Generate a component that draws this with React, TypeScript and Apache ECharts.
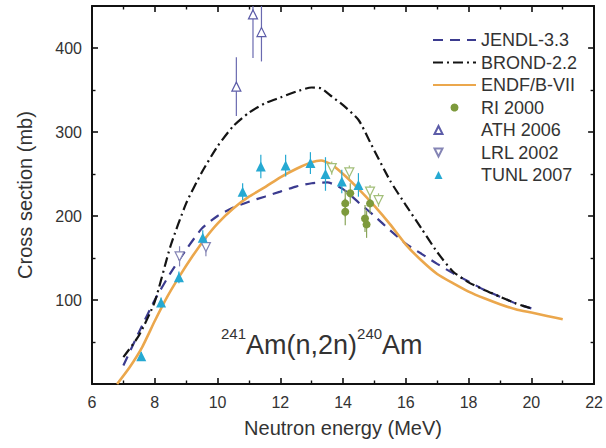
import React, { useEffect, useRef } from "react";
import * as echarts from "echarts";

// ---- Evaluated curves (energy MeV, cross section mb) ----
const jendlE = [7.0, 7.5, 8.0, 8.5, 9.0, 9.5, 10.0, 10.5, 11.0, 11.5, 12.0, 12.5, 13.0, 13.5, 14.0, 14.5, 15.0, 15.5, 16.0, 16.5, 17.0, 17.5, 18.0, 18.5, 19.0, 19.5, 20.0];
const jendlV = [22, 62, 100, 132, 160, 185, 200, 210, 217, 223, 229, 235, 239, 240, 232, 216, 200, 183, 167, 155, 143, 132, 122, 112, 104, 96, 90];

const brondE = [7.0, 7.5, 8.0, 8.5, 9.0, 9.5, 10.0, 10.5, 11.0, 11.5, 12.0, 12.5, 13.0, 13.3, 13.65, 14.0, 14.5, 14.9, 15.5, 16.0, 16.5, 17.0, 17.5, 18.0, 18.5, 19.0, 19.5, 20.0];
const brondV = [32, 58, 98, 164, 215, 252, 283, 307, 323, 334, 341, 348, 353, 352, 342, 332, 314, 285, 242, 213, 185, 157, 134, 121, 112, 104, 96, 90];

const endfE = [6.8, 7.2, 7.6, 8.0, 8.4, 8.8, 9.2, 9.6, 10.0, 10.5, 11.0, 11.5, 12.0, 12.5, 13.0, 13.3, 13.6, 14.0, 14.5, 15.0, 15.5, 16.0, 16.5, 17.0, 17.5, 18.0, 18.5, 19.0, 19.5, 20.0, 20.5, 21.0];
const endfV = [0, 20, 44, 75, 104, 129, 152, 173, 191, 209, 223, 234, 246, 256, 264, 266, 262, 250, 232, 212, 190, 166, 147, 131, 120, 110, 102, 95, 89, 85, 81, 77];

// ---- Measurements: energy, value, uncertainty ----
const riE = [14.07, 14.07, 14.23, 14.7, 14.75, 14.86];
const riV = [215, 205, 227, 197, 190, 215];
const riErr = [16, 16, 12, 16, 16, 12];

const athE = [10.6, 11.13, 11.4];
const athV = [354, 440, 419];
const athErr = [35, 52, 35];

const lrlE = [8.79, 9.63];
const lrlV = [152, 163];
const lrlErr = [12, 11];

const lrlHiE = [13.64, 14.2, 14.86, 15.13];
const lrlHiV = [257, 252, 229, 219];
const lrlHiErr = [8, 8, 8, 8];

const tunlE = [7.57, 8.2, 8.77, 9.53, 10.8, 11.38, 12.17, 12.96, 13.44, 13.96, 14.49];
const tunlV = [33, 97, 127, 174, 229, 259, 260, 263, 250, 241, 237];
const tunlErr = [5, 6, 7, 9, 10, 14, 13, 13, 20, 14, 14];

const lineNames = ["JENDL-3.3", "BROND-2.2", "ENDF/B-VII"];
const pointNames = ["RI 2000", "ATH 2006", "LRL 2002", "TUNL 2007"];

const xTickMin = 6;
const xTickMax = 22;
const yMin = 0;
const yMax = 450;

const FONT = "'Liberation Sans', Arial, Helvetica, sans-serif";
const TXT = "#333";

const pairs = (e: number[], v: number[]) => e.map((x, i) => [x, v[i]]);

function errSeries(name: string, e: number[], v: number[], s: number[], color: string) {
  return {
    type: "custom",
    name,
    data: e.map((x, i) => [x, v[i], v[i] - s[i], v[i] + s[i]]),
    encode: { x: 0, y: [2, 3] },
    clip: true,
    z: 3,
    silent: true,
    renderItem: (_p: any, api: any) => {
      const x = api.value(0);
      const a = api.coord([x, api.value(2)]);
      const b = api.coord([x, api.value(3)]);
      return {
        type: "line",
        shape: { x1: a[0], y1: a[1], x2: b[0], y2: b[1] },
        style: { stroke: color, lineWidth: 1.2 },
      };
    },
  };
}

function axisCommon() {
  return {
    axisLine: { show: true, onZero: false, lineStyle: { color: "#111", width: 2 } },
    axisTick: { show: true, inside: true, length: 6, lineStyle: { color: "#111", width: 1.6 } },
    minorTick: { show: true, splitNumber: 2, length: 3.5, lineStyle: { color: "#111", width: 1.4 } },
    splitLine: { show: false },
    minorSplitLine: { show: false },
  };
}

export default function App() {
  const ref = useRef<HTMLDivElement>(null);
  useEffect(() => {
    const chart = echarts.init(ref.current!, null, { renderer: "svg" });
    const option: any = {
      animation: false,
      backgroundColor: "#fff",
      textStyle: { fontFamily: FONT },
      grid: { left: 92, right: 9, top: 6, bottom: 64, containLabel: false },
      legend: {
        data: [
          ...lineNames.map((n) => ({ name: n, itemStyle: { opacity: 0 } })),
          { name: pointNames[0], icon: "circle" },
          { name: pointNames[1], icon: "path://M-20,10 L-16,2 L-12,10 Z M-20,10 L-20,10 M20,10 L20,10" },
          { name: pointNames[2], icon: "path://M-20,2 L-12,2 L-16,10 Z M-20,2 L-20,2 M20,2 L20,2" },
          { name: pointNames[3], icon: "path://M-20,10 L-16,2 L-12,10 Z M-20,10 L-20,10 M20,10 L20,10" },
        ],
        orient: "vertical",
        left: 432,
        top: 31,
        padding: 0,
        itemWidth: 43,
        itemHeight: 8,
        itemGap: 4.5,
        symbolKeepAspect: true,
        textStyle: { fontSize: 18, color: TXT, fontFamily: FONT },
      },
      xAxis: [
        {
          type: "value",
          min: xTickMin,
          max: xTickMax,
          interval: 2,
          position: "bottom",
          ...axisCommon(),
          axisLabel: { fontSize: 16, color: TXT, margin: 10, fontFamily: FONT },
          name: "Neutron energy (MeV)",
          nameLocation: "middle",
          nameGap: 34,
          nameTextStyle: { fontSize: 20, color: TXT, fontFamily: FONT },
        },
        {
          type: "value",
          min: xTickMin,
          max: xTickMax,
          interval: 2,
          position: "top",
          ...axisCommon(),
          axisLabel: { show: false },
        },
      ],
      yAxis: [
        {
          type: "value",
          min: yMin,
          max: yMax,
          interval: 100,
          position: "left",
          ...axisCommon(),
          axisLabel: {
            fontSize: 16,
            color: TXT,
            margin: 10,
            fontFamily: FONT,
            formatter: (v: number) => (v === 0 || v > 400 ? "" : String(v)),
          },
          name: "Cross section (mb)",
          nameLocation: "middle",
          nameGap: 57,
          nameTextStyle: { fontSize: 20, color: TXT, fontFamily: FONT },
        },
        {
          type: "value",
          min: yMin,
          max: yMax,
          interval: 100,
          position: "right",
          ...axisCommon(),
          axisLabel: { show: false },
        },
      ],
      series: [
        {
          name: "JENDL-3.3",
          type: "line",
          data: pairs(jendlE, jendlV),
          smooth: 0.2,
          symbol: "none",
          z: 2,
          lineStyle: { color: "#3b3b8f", width: 2.2, type: [10, 7] },
          itemStyle: { color: "#3b3b8f" },
        },
        {
          name: "BROND-2.2",
          type: "line",
          data: pairs(brondE, brondV),
          smooth: 0.2,
          symbol: "none",
          z: 2,
          lineStyle: { color: "#141414", width: 2.2, type: [10, 4, 2, 4] },
          itemStyle: { color: "#141414" },
        },
        {
          name: "ENDF/B-VII",
          type: "line",
          data: pairs(endfE, endfV),
          smooth: 0.2,
          symbol: "none",
          z: 2,
          lineStyle: { color: "#eba74c", width: 2.6 },
          itemStyle: { color: "#eba74c" },
        },
        {
          name: "RI 2000",
          type: "scatter",
          data: pairs(riE, riV),
          symbol: "circle",
          symbolSize: 8,
          z: 5,
          itemStyle: { color: "#7d9a3c", opacity: 1 },
        },
        {
          name: "ATH 2006",
          type: "scatter",
          data: pairs(athE, athV),
          symbol: "triangle",
          symbolSize: 9,
          clip: true,
          z: 5,
          itemStyle: { color: "#ffffff", borderColor: "#5c5ca8", borderWidth: 1.2, opacity: 1 },
        },
        {
          name: "LRL 2002",
          type: "scatter",
          data: pairs(lrlE, lrlV),
          symbol: "triangle",
          symbolRotate: 180,
          symbolSize: 9,
          z: 5,
          itemStyle: { color: "#ffffff", borderColor: "#8585b5", borderWidth: 1.2, opacity: 1 },
        },
        {
          name: "LRL 2002",
          type: "scatter",
          data: pairs(lrlHiE, lrlHiV),
          symbol: "triangle",
          symbolRotate: 180,
          symbolSize: 9,
          z: 4,
          itemStyle: { color: "#ffffff", borderColor: "#a3bf7a", borderWidth: 1.2, opacity: 1 },
        },
        {
          name: "TUNL 2007",
          type: "scatter",
          data: pairs(tunlE, tunlV),
          symbol: "triangle",
          symbolSize: 10,
          z: 5,
          itemStyle: { color: "#26a9d2", opacity: 1 },
        },
        errSeries("err-ri", riE, riV, riErr, "#8aa55a"),
        errSeries("err-ath", athE, athV, athErr, "#6a6ab0"),
        errSeries("err-lrl", lrlE, lrlV, lrlErr, "#8585b5"),
        errSeries("err-lrlhi", lrlHiE, lrlHiV, lrlHiErr, "#a3bf7a"),
        errSeries("err-tunl", tunlE, tunlV, tunlErr, "#26a9d2"),
      ],
      graphic: [
        {
          type: "text",
          left: 221,
          top: 326,
          silent: true,
          style: {
            text: "{s|241}{m|Am(n,2n)}{s|240}{m|Am}",
            fontFamily: FONT,
            fill: TXT,
            rich: {
              s: { fontSize: 15, fill: TXT, fontFamily: FONT, verticalAlign: "top", lineHeight: 15 },
              m: { fontSize: 27, fill: TXT, fontFamily: FONT, verticalAlign: "bottom", lineHeight: 32 },
            },
          },
        },
      ],
    };
    chart.setOption(option);
    return () => chart.dispose();
  }, []);
  return (
    <div
      ref={ref}
      style={{ position: "absolute", left: 0, top: 0, width: 606, height: 448, background: "#fff" }}
    />
  );
}
